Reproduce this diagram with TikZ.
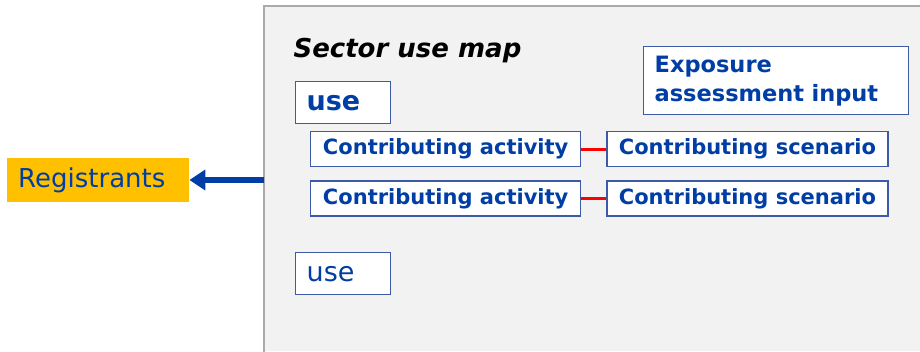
\documentclass[tikz,border=0pt]{standalone}
\usepackage{fontspec}
\setmainfont{DejaVu Sans}
\usetikzlibrary{positioning,arrows.meta}
\definecolor{echablue}{RGB}{0,62,165}
\definecolor{boxline}{RGB}{60,90,165}
\definecolor{panelgray}{RGB}{242,242,242}
\definecolor{panelline}{RGB}{170,170,170}
\definecolor{regyellow}{RGB}{255,192,0}
\tikzset{
  box/.style={draw=boxline, line width=1.3pt, fill=white, text=echablue, inner sep=0pt},
  smallbox/.style={box, font=\bfseries\fontsize{21}{23}\selectfont, minimum height=35pt},
  usebox/.style={box, font=\fontsize{27}{29}\selectfont, inner xsep=11pt, text width=73pt, align=left, minimum height=42pt},
}

\begin{document}
\begin{tikzpicture}[x=1pt,y=-1pt]
            \useasboundingbox (0,0) rectangle (920,351);
            \fill[panelgray] (264,6) rectangle (920,351);
            \draw[panelline, line width=2.5pt] (920,6) -- (264,6) -- (264,352);
            \node[anchor=base west, font=\bfseries\itshape\fontsize{26}{28}\selectfont] (Title) at (290,57) {Sector use map};
            \node[fill=regyellow, text=echablue, font=\fontsize{26}{28}\selectfont, inner xsep=11pt, text width=160pt, align=left, minimum height=44pt, anchor=west] (Reg) at (7,180) {Registrants};
            \coordinate (Edge) at (264,180);
            \node[usebox, anchor=north west, font=\bfseries\fontsize{27}{29}\selectfont] (Use1) at (295,81) {use};
            \node[usebox, anchor=north west] (Use2) at (295,252) {use};
            \node[smallbox, minimum width=270pt, anchor=north west] (Act1) at (310,131) {Contributing activity};
            \node[smallbox, minimum width=270pt, below=13pt of Act1] (Act2) {Contributing activity};
            \node[smallbox, minimum width=281pt, right=25pt of Act1] (Scen1) {Contributing scenario};
            \node[smallbox, minimum width=281pt, right=25pt of Act2] (Scen2) {Contributing scenario};
            \node[box, font=\bfseries\fontsize{22.5}{29}\selectfont, inner xsep=11pt, text width=243pt, align=left, minimum height=68pt, anchor=north west] (Exp) at (643,46) {Exposure\\assessment input};
            \draw[red, line width=3pt] (Act1) -- (Scen1);
            \draw[red, line width=3pt] (Act2) -- (Scen2);
            \draw[echablue, line width=5.5pt, -{Triangle[length=16pt,width=20pt]}] (Edge) -- (Reg.east);
          \end{tikzpicture}
\end{document}
